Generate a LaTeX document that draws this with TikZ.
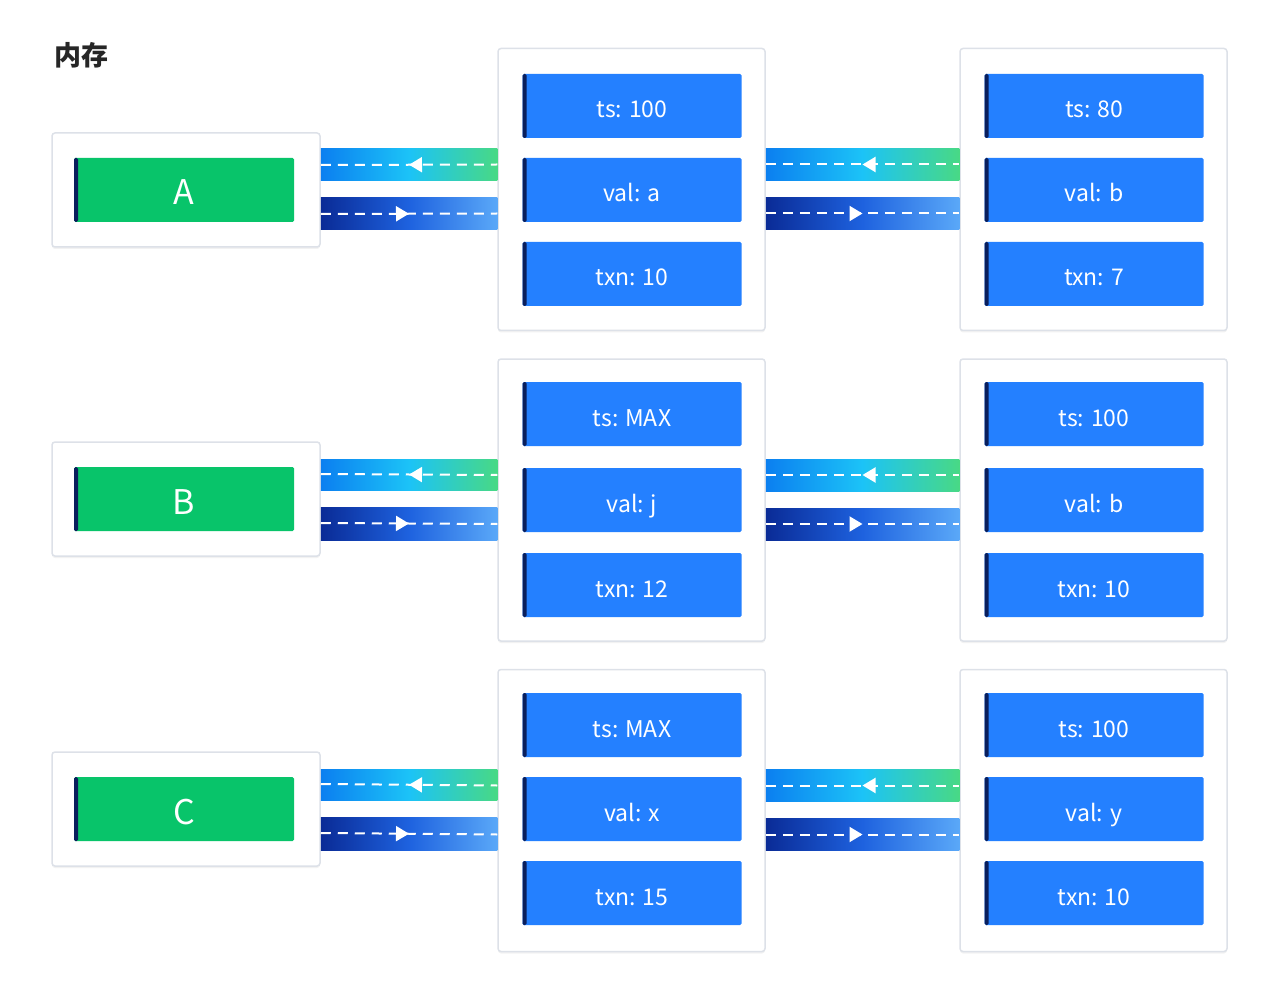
\documentclass[tikz,border=0pt]{standalone}
\usepackage{fontspec}
\setmainfont{Noto Sans CJK SC}
\usetikzlibrary{decorations.markings,arrows.meta,shadows}
\definecolor{fieldblue}{HTML}{2480FF}
\definecolor{keygreen}{HTML}{08C46A}
\definecolor{stripe}{HTML}{0A1F5C}
\definecolor{frame}{HTML}{DDE1E8}
\definecolor{title}{HTML}{262626}
\definecolor{upl}{HTML}{0B7FF0}
\definecolor{upm}{HTML}{1CC3F7}
\definecolor{upr}{HTML}{48D985}
\definecolor{dnl}{HTML}{0A2B96}
\definecolor{dnm}{HTML}{1E62DF}
\definecolor{dnr}{HTML}{5AA8F8}
\begin{document}
\begin{tikzpicture}[x=1pt,y=-1pt,
  holder/.style={draw=frame, line width=1.5pt, fill=white, rounded corners=3pt, inner sep=0pt,
    minimum width=267pt, minimum height=282pt,
    drop shadow={shadow xshift=0pt, shadow yshift=-2pt, opacity=0.05, fill=black}},
  keyholder/.style={holder, minimum width=268pt, minimum height=114pt},
  field/.style={fill=fieldblue, rounded corners=1.5pt, inner sep=0pt, minimum width=219pt, minimum height=64pt,
    text=white, font=\fontsize{23}{26}\selectfont, text height=24pt, text depth=0pt,
    path picture={\fill[stripe] (path picture bounding box.south west) rectangle ([xshift=4pt]path picture bounding box.north west);}},
  key/.style={field, fill=keygreen, minimum width=220pt, font=\fontsize{34}{38}\selectfont, text height=30pt},
  bandup/.style={left color=upl, right color=upr, middle color=upm},
  banddn/.style={left color=dnl, right color=dnr, middle color=dnm},
  flowback/.style={draw=white, line width=2pt, dash pattern=on 10pt off 7pt,
    postaction={decorate, decoration={markings, mark=at position 0.5 with {\arrowreversed{Triangle[width=15pt,length=13pt]}}}}},
  flowfwd/.style={draw=white, line width=2pt, dash pattern=on 10pt off 7pt,
    postaction={decorate, decoration={markings, mark=at position 0.5 with {\arrow{Triangle[width=15pt,length=13pt]}}}}}]
\useasboundingbox (0,0) rectangle (1280,1000);
\node[anchor=west, text=title, font=\fontsize{27}{30}\selectfont\bfseries] (mem) at (51,55){内存};
% row A
\node[keyholder] (ka) at (186,190){};
\node[key] (kA) at (184,190){A};
\node[holder] (m1) at (631.5,189.5){};
\node[field] (m1ts) at (632,106){ts: 100};
\node[field] (m1val) at (632,190){val: a};
\node[field] (m1txn) at (632,274){txn: 10};
\node[holder] (r1) at (1093.5,189.5){};
\node[field] (r1ts) at (1094,106){ts: 80};
\node[field] (r1val) at (1094,190){val: b};
\node[field] (r1txn) at (1094,274){txn: 7};
\shade[bandup] ([yshift=9pt]ka.east) rectangle ([yshift=41pt]m1.west);
\shade[banddn] ([yshift=-8pt]ka.east) rectangle ([yshift=-40pt]m1.west);
\draw[flowback] ([yshift=25pt]ka.east) -- ([yshift=25pt]m1.west);
\draw[flowfwd] ([yshift=-24pt]ka.east) -- ([yshift=-24pt]m1.west);
\shade[bandup] ([yshift=9pt]m1.east) rectangle ([yshift=41pt]r1.west);
\shade[banddn] ([yshift=-8pt]m1.east) rectangle ([yshift=-40pt]r1.west);
\draw[flowback] ([yshift=25pt]m1.east) -- ([yshift=25pt]r1.west);
\draw[flowfwd] ([yshift=-24pt]m1.east) -- ([yshift=-24pt]r1.west);
% row B
\node[keyholder] (kb) at (186,499){};
\node[key] (kB) at (184,499){B};
\node[holder] (m2) at (631.5,500){};
\node[field] (m2ts) at (632,414){ts: MAX};
\node[field] (m2val) at (632,500){val: j};
\node[field] (m2txn) at (632,585){txn: 12};
\node[holder] (r2) at (1093.5,500){};
\node[field] (r2ts) at (1094,414){ts: 100};
\node[field] (r2val) at (1094,500){val: b};
\node[field] (r2txn) at (1094,585){txn: 10};
\shade[bandup] ([yshift=9pt]kb.east) rectangle ([yshift=41pt]m2.west);
\shade[banddn] ([yshift=-8pt]kb.east) rectangle ([yshift=-40pt]m2.west);
\draw[flowback] ([yshift=25pt]kb.east) -- ([yshift=25pt]m2.west);
\draw[flowfwd] ([yshift=-24pt]kb.east) -- ([yshift=-24pt]m2.west);
\shade[bandup] ([yshift=9pt]m2.east) rectangle ([yshift=41pt]r2.west);
\shade[banddn] ([yshift=-8pt]m2.east) rectangle ([yshift=-40pt]r2.west);
\draw[flowback] ([yshift=25pt]m2.east) -- ([yshift=25pt]r2.west);
\draw[flowfwd] ([yshift=-24pt]m2.east) -- ([yshift=-24pt]r2.west);
% row C
\node[keyholder] (kc) at (186,809){};
\node[key] (kC) at (184,809){C};
\node[holder] (m3) at (631.5,810.5){};
\node[field] (m3ts) at (632,725){ts: MAX};
\node[field] (m3val) at (632,809){val: x};
\node[field] (m3txn) at (632,893){txn: 15};
\node[holder] (r3) at (1093.5,810.5){};
\node[field] (r3ts) at (1094,725){ts: 100};
\node[field] (r3val) at (1094,809){val: y};
\node[field] (r3txn) at (1094,893){txn: 10};
\shade[bandup] ([yshift=9pt]kc.east) rectangle ([yshift=41pt]m3.west);
\shade[banddn] ([yshift=-8pt]kc.east) rectangle ([yshift=-40pt]m3.west);
\draw[flowback] ([yshift=25pt]kc.east) -- ([yshift=25pt]m3.west);
\draw[flowfwd] ([yshift=-24pt]kc.east) -- ([yshift=-24pt]m3.west);
\shade[bandup] ([yshift=9pt]m3.east) rectangle ([yshift=41pt]r3.west);
\shade[banddn] ([yshift=-8pt]m3.east) rectangle ([yshift=-40pt]r3.west);
\draw[flowback] ([yshift=25pt]m3.east) -- ([yshift=25pt]r3.west);
\draw[flowfwd] ([yshift=-24pt]m3.east) -- ([yshift=-24pt]r3.west);
\end{tikzpicture}
\end{document}
